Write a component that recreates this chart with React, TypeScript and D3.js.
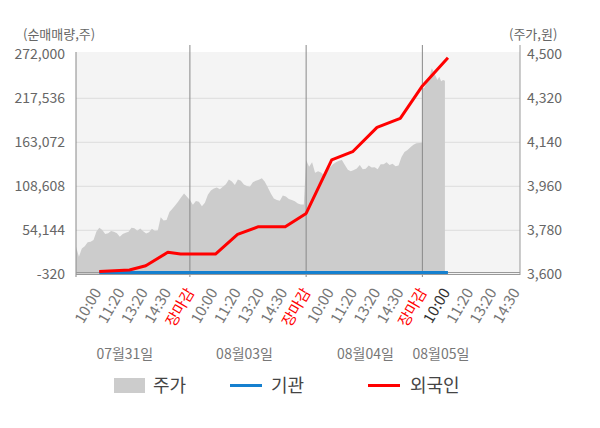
import React from "react";
import * as d3 from "d3";

// left axis: net buying volume (shares), right axis: price (won)
const volumeTicks = [-320, 54144, 108608, 163072, 217536, 272000];
const priceTicks = [3600, 3780, 3960, 4140, 4320, 4500];

const timeLabels = [
  "10:00", "11:20", "13:20", "14:30", "장마감",
  "10:00", "11:20", "13:20", "14:30", "장마감",
  "10:00", "11:20", "13:20", "14:30", "장마감",
  "10:00", "11:20", "13:20", "14:30",
];
const timeSlots = [1, 2, 3, 4, 5, 6, 7, 8, 9, 10, 11, 12, 13, 14, 15, 16, 17, 18, 19];
const currentLabel = 15; // index of the live "10:00"

const dates = ["07월31일", "08월03일", "08월04일", "08월05일"];
const dateSlots = [2.2, 7.35, 12.55, 15.8];
const dayBoundaries = [5, 10, 15];

// price by trading day, sampled evenly within each day's span (in slots)
const daySpans = [[0.1, 5], [5, 9.9], [10, 15], [15, 15.97]];
const priceDay1 = [
  3713, 3672, 3706, 3715, 3731, 3733, 3740, 3775, 3790, 3781, 3765, 3768, 3777, 3774,
  3768, 3754, 3765, 3770, 3774, 3790, 3788, 3778, 3787, 3776, 3767, 3772, 3786,
  3777, 3779, 3833, 3820, 3822, 3855, 3868, 3882, 3898, 3915, 3931, 3917, 3904,
];
const priceDay2 = [
  3904, 3885, 3900, 3897, 3878, 3893, 3925, 3943, 3951, 3955, 3948, 3958, 3968,
  3988, 3980, 3965, 3988, 3983, 3967, 3961, 3958, 3977, 3983, 3987, 3993, 3979,
  3955, 3931, 3910, 3904, 3901, 3922, 3918, 3908, 3904, 3899, 3890, 3886, 3886,
];
const priceDay3 = [
  4068, 4040, 4058, 4015, 4022, 4016, 4005, 4022, 4037, 4050, 4058, 4065, 4068,
  4047, 4028, 4022, 4027, 4033, 4047, 4030, 4032, 4045, 4037, 4038, 4030, 4050,
  4050, 4058, 4047, 4052, 4042, 4045, 4080, 4100, 4108, 4120, 4130, 4136, 4137, 4138,
];
const priceDay4 = [4360, 4362, 4380, 4400, 4415, 4443, 4430, 4412, 4395, 4408, 4390, 4395, 4392];

const foreignSlots = [1.1, 2.4, 3.1, 4.05, 4.6, 6.1, 7.05, 7.95, 9.1, 10.0, 11.1, 12.0, 13.05, 14.05, 15.0, 16.1];
const foreignValues = [
  3000, 5000, 10300, 26900, 24800, 24800, 49000, 58600, 58500, 75000,
  141200, 151400, 181600, 192800, 232800, 267800,
];
const institutionValues = [
  1900, 1900, 1900, 1900, 1900, 1900, 1900, 1900, 1900, 1900,
  1900, 1900, 1900, 1900, 1900, 1900,
];

const FONT = "'Noto Sans CJK KR', 'Noto Sans', sans-serif";
const fmt = (v: number) => d3.format(",")(v).replace("\u2212", "-");

const App: React.FC = () => {
  const left = 76, right = 520, top = 54.3, bottom = 274.3;

  const x = d3.scaleLinear().domain([0.1, 19.2]).range([left, right]);
  const yVol = d3.scaleLinear().domain([-320, 272000]).range([bottom, top]);
  const yPrice = d3.scaleLinear().domain([3600, 4500]).range([bottom, top]);

  const days = [priceDay1, priceDay2, priceDay3, priceDay4];
  const pricePoints: { s: number; v: number }[] = [];
  days.forEach((arr, d) => {
    const [s0, s1] = daySpans[d];
    arr.forEach((v, i) => {
      pricePoints.push({ s: s0 + ((s1 - s0) * i) / (arr.length - 1), v });
    });
  });

  const area = d3
    .area<{ s: number; v: number }>()
    .x((d) => x(d.s))
    .y0(bottom)
    .y1((d) => yPrice(d.v));

  const line = d3
    .line<[number, number]>()
    .x((d) => x(d[0]))
    .y((d) => yVol(d[1]));

  const foreign = foreignSlots.map((s, i) => [s, foreignValues[i]] as [number, number]);
  const institution = foreignSlots.map((s, i) => [s, institutionValues[i]] as [number, number]);

  return (
    <svg
      width={600}
      height={428}
      style={{ position: "absolute", left: 0, top: 0, fontFamily: FONT }}
    >
      <rect x={left} y={52} width={right - left} height={bottom - 52} fill="#f4f4f4" />
      {volumeTicks.slice(1, 5).map((t) => (
        <line key={t} x1={left} x2={right} y1={yVol(t)} y2={yVol(t)} stroke="#dcdcdc" strokeWidth={1} />
      ))}

      <path d={area(pricePoints) || ""} fill="#cccccc" />

      {dayBoundaries.map((s) => (
        <line key={s} x1={x(s)} x2={x(s)} y1={45} y2={277} stroke="#888" strokeWidth={1} />
      ))}
      <line x1={left} x2={left} y1={52} y2={277} stroke="#888" />
      <line x1={right} x2={right} y1={45} y2={275} stroke="#999" />
      <line x1={left} x2={right} y1={272.5} y2={272.5} stroke="#999" />
      <line x1={left} x2={right} y1={274.5} y2={274.5} stroke="#999" />

      <path d={line(institution) || ""} fill="none" stroke="#1580cf" strokeWidth={3} />
      <path d={line(foreign) || ""} fill="none" stroke="#ff0000" strokeWidth={3} strokeLinejoin="round" />

      {/* axis titles */}
      <text x={23} y={34} dy="0.35em" fontSize={13} fill="#666">(순매매량,주)</text>
      <text x={509} y={34} dy="0.35em" fontSize={13} fill="#666">(주가,원)</text>

      {volumeTicks.map((t) => (
        <text key={t} x={65} y={yVol(t)} dy="0.35em" textAnchor="end" fontSize={14} fill="#666">
          {fmt(t)}
        </text>
      ))}
      {priceTicks.map((t) => (
        <text key={t} x={527} y={yPrice(t)} dy="0.35em" fontSize={14} fill="#666">
          {fmt(t)}
        </text>
      ))}

      {timeLabels.map((lab, i) => {
        const px = x(timeSlots[i]) + 5;
        const color = lab === "장마감" ? "#ff0000" : i === currentLabel ? "#333" : "#777";
        return (
          <text
            key={i}
            transform={`translate(${px},292) rotate(-60)`}
            textAnchor="end"
            fontSize={15}
            fill={color}
          >
            {lab}
          </text>
        );
      })}

      {dates.map((d, i) => (
        <text key={d} x={x(dateSlots[i])} y={354} dy="0.35em" textAnchor="middle" fontSize={14} fill="#777">
          {d}
        </text>
      ))}

      {/* legend */}
      <rect x={114} y={378} width={31} height={15} fill="#cccccc" />
      <text x={153} y={385.5} dy="0.35em" fontSize={18} fill="#444">주가</text>
      <line x1={230} x2={262} y1={385.5} y2={385.5} stroke="#1580cf" strokeWidth={3} />
      <text x={271} y={385.5} dy="0.35em" fontSize={18} fill="#444">기관</text>
      <line x1={368} x2={400} y1={385.5} y2={385.5} stroke="#ff0000" strokeWidth={3} />
      <text x={410} y={385.5} dy="0.35em" fontSize={18} fill="#444">외국인</text>
    </svg>
  );
};

export default App;
